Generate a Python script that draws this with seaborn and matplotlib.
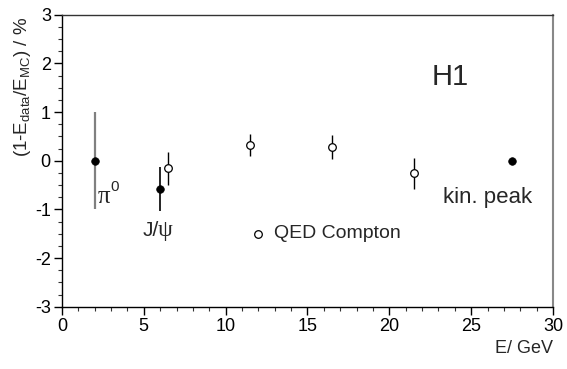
import matplotlib
matplotlib.use("Agg")
import matplotlib.pyplot as plt
import seaborn as sns
import pandas as pd
from matplotlib.ticker import MultipleLocator

# Data
filled_x = [2.0, 6.0, 27.5]
filled_y = [0.0, -0.58, 0.0]
filled_err = [1.0, 0.45, 0.03]
filled_ecolor = ["#808080", "black", "black"]

qed_x = [6.5, 11.5, 16.5, 21.5]
qed_y = [-0.15, 0.32, 0.28, -0.26]
qed_err = [0.34, 0.23, 0.24, 0.32]

legend_x = [12.0]
legend_y = [-1.5]

sns.set_theme(style="white")
plt.rcParams["font.family"] = ["Liberation Sans", "DejaVu Sans"]
plt.rcParams["mathtext.fontset"] = "custom"
plt.rcParams["mathtext.rm"] = "Liberation Sans"
plt.rcParams["mathtext.it"] = "Liberation Sans"
plt.rcParams["axes.unicode_minus"] = False

fig = plt.figure(figsize=(5.67, 3.69), dpi=100)
ax = fig.add_axes([0.1093, 0.1688, 0.866, 0.791])

df_f = pd.DataFrame({"x": filled_x, "y": filled_y})
df_q = pd.DataFrame({"x": qed_x, "y": qed_y})

for x, y, e, c in zip(filled_x, filled_y, filled_err, filled_ecolor):
    ax.errorbar([x], [y], yerr=[e], fmt="none", ecolor=c,
                elinewidth=1.6 if c != "black" else 1.2, capsize=0, zorder=2)
ax.errorbar(qed_x, qed_y, yerr=qed_err, fmt="none", ecolor="black", elinewidth=1.0, capsize=0, zorder=2)

sns.scatterplot(data=df_f, x="x", y="y", ax=ax, color="black", s=30, marker="o",
                edgecolor="black", linewidth=0.5, zorder=3, legend=False)
sns.scatterplot(data=df_q, x="x", y="y", ax=ax, facecolor="white", s=30, marker="o",
                edgecolor="black", linewidth=0.9, zorder=3, legend=False)
sns.scatterplot(x=legend_x, y=legend_y, ax=ax, facecolor="white", s=30, marker="o",
                edgecolor="black", linewidth=0.9, zorder=3, legend=False)

ax.text(12.95, -1.5, "QED Compton", fontsize=14, va="center", ha="left")
ax.text(2.2, -0.86, "π", fontsize=18, family=["Liberation Serif"], va="baseline", ha="left")
ax.text(2.95, -0.62, "0", fontsize=11, va="baseline", ha="left")
ax.text(4.9, -1.55, "J/", fontsize=15, va="baseline", ha="left")
ax.text(5.85, -1.55, "ψ", fontsize=17, family=["Liberation Serif"], va="baseline", ha="left")
ax.text(23.25, -0.86, "kin. peak", fontsize=16, va="baseline", ha="left")
ax.text(22.6, 1.55, "H1", fontsize=21, va="baseline", ha="left")

ax.set_xlim(0, 30)
ax.set_ylim(-3, 3)
ax.xaxis.set_major_locator(MultipleLocator(5))
ax.xaxis.set_minor_locator(MultipleLocator(1))
ax.yaxis.set_major_locator(MultipleLocator(1))
ax.yaxis.set_minor_locator(MultipleLocator(0.25))
ax.tick_params(axis="both", which="major", direction="out", length=6, width=1, labelsize=13,
               bottom=True, left=True, top=False, right=False, colors="black", pad=2)
ax.tick_params(axis="both", which="minor", direction="out", length=3, width=0.8,
               bottom=True, left=True, top=False, right=False, colors="#333333")

for s in ["left", "bottom"]:
    ax.spines[s].set_color("black")
    ax.spines[s].set_linewidth(1.0)
ax.spines["top"].set_color("#333333")
ax.spines["top"].set_linewidth(1.0)
ax.spines["right"].set_color("#888888")
ax.spines["right"].set_linewidth(1.5)

ax.set_xlabel("E/ GeV", fontsize=13, loc="right", labelpad=4)
ax.set_ylabel(r"(1-E$_{\rm data}$/E$_{\rm MC}$) / %", fontsize=13.5, loc="top")
ax.yaxis.set_label_coords(-0.06, 0.992)
ax.grid(False)

fig.savefig("out.png", dpi=100)
